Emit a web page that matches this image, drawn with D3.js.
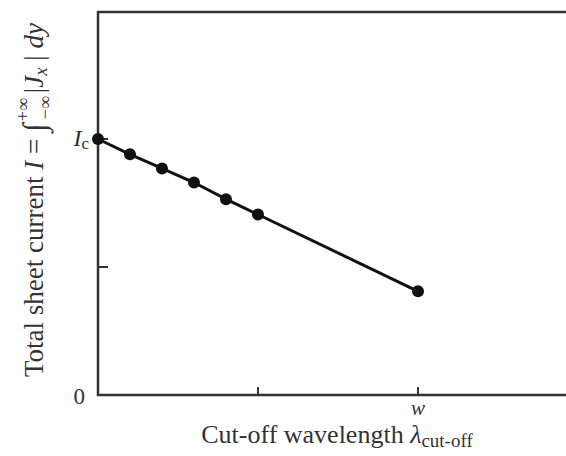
<!DOCTYPE html>
<html>
<head>
<meta charset="utf-8">
<script src="https://d3js.org/d3.v7.min.js"></script>
<style>
  body { margin: 0; background: #fff; }
  text { font-family: "Liberation Serif", "Times New Roman", serif; fill: #333; }
</style>
</head>
<body>
<script>
  // lambda_cut-off in units of w, current in units of Ic
  var lambdaVals = [0, 0.1, 0.2, 0.3, 0.4, 0.5, 1.0];
  var currentVals = [1.0, 0.94, 0.885, 0.83, 0.765, 0.705, 0.405];
  var xTicks = [0.5, 1.0];
  var xTickLabels = ['', 'w'];
  var yTicks = [0.5, 1.0];

  var W = 566, H = 456;
  var margin = { top: 12, right: 0, bottom: 61, left: 98 };
  var innerW = W - margin.left - margin.right;
  var innerH = H - margin.top - margin.bottom;

  var svg = d3.select('body').append('svg')
    .attr('width', W)
    .attr('height', H);
  var g = svg.append('g')
    .attr('transform', 'translate(' + [margin.left, margin.top] + ')');

  var x = d3.scaleLinear().domain([0, 1.4625]).range([0, innerW]);
  var y = d3.scaleLinear().domain([0, 1.496]).range([innerH, 0]);

  var axisCol = '#333';

  // frame: left, bottom, top (right edge runs off the page)
  g.append('path')
    .attr('d', 'M' + innerW + ',0H0V' + innerH + 'H' + innerW)
    .attr('fill', 'none')
    .attr('stroke', axisCol)
    .attr('stroke-width', 2.5);

  // inward ticks
  g.selectAll('.xtick').data(xTicks).enter().append('line')
    .attr('x1', function(d){return x(d);})
    .attr('x2', function(d){return x(d);})
    .attr('y1', innerH)
    .attr('y2', innerH - 8)
    .attr('stroke', axisCol)
    .attr('stroke-width', 2);
  g.selectAll('.ytick').data(yTicks).enter().append('line')
    .attr('x1', 0)
    .attr('x2', 10)
    .attr('y1', function(d){return y(d);})
    .attr('y2', function(d){return y(d);})
    .attr('stroke', axisCol)
    .attr('stroke-width', 2);

  // tick labels
  g.selectAll('.xlab').data(xTicks).enter().append('text')
    .attr('x', function(d){return x(d);})
    .attr('y', innerH + 20)
    .attr('text-anchor', 'middle')
    .attr('font-size', 21)
    .attr('font-style', 'italic')
    .text(function(d, i){return xTickLabels[i];});

  g.append('text')
    .attr('x', -13)
    .attr('y', y(0) + 9)
    .attr('text-anchor', 'end')
    .attr('font-size', 23)
    .text('0');

  var ic = g.append('text')
    .attr('x', -9)
    .attr('y', y(1.0) + 7)
    .attr('text-anchor', 'end')
    .attr('font-size', 24);
  ic.append('tspan').attr('font-style', 'italic').text('I');
  ic.append('tspan').attr('font-size', 17).attr('dy', 3).text('c');

  // data line + markers
  var line = d3.line()
    .x(function(d){return x(d[0]);})
    .y(function(d){return y(d[1]);});
  var pts = lambdaVals.map(function(d, i){return [d, currentVals[i]];});

  g.append('path')
    .datum(pts)
    .attr('d', line)
    .attr('fill', 'none')
    .attr('stroke', '#111')
    .attr('stroke-width', 3);

  g.selectAll('.dot').data(pts).enter().append('circle')
    .attr('cx', function(d){return x(d[0]);})
    .attr('cy', function(d){return y(d[1]);})
    .attr('r', 6)
    .attr('fill', '#111');

  // x-axis title
  var xt = svg.append('text')
    .attr('x', 337)
    .attr('y', 443)
    .attr('text-anchor', 'middle')
    .attr('font-size', 26);
  xt.append('tspan').text('Cut-off wavelength ');
  xt.append('tspan').attr('font-style', 'italic').text('λ');
  xt.append('tspan').attr('font-size', 19).attr('dy', 4).text('cut-off');

  // y-axis title
  var yt = svg.append('text')
    .attr('transform', 'translate(43,' + 200 + ') rotate(-90)')
    .attr('text-anchor', 'middle')
    .attr('font-size', 27);
  yt.append('tspan').text('Total sheet current ');
  yt.append('tspan').attr('font-style', 'italic').text('I');
  yt.append('tspan').text(' = ');
  yt.append('tspan').attr('font-style', 'italic').attr('font-size', 32).attr('dy', 2).text('∫');
  yt.append('tspan').attr('font-size', 18).attr('dy', -16).attr('dx', 2).text('+∞');
  yt.append('tspan').attr('font-size', 18).attr('dy', 22).attr('dx', -21).text('−∞');
  yt.append('tspan').attr('dy', -8).attr('dx', 3).text('|');
  yt.append('tspan').attr('font-style', 'italic').text('J');
  yt.append('tspan').attr('font-style', 'italic').attr('font-size', 19).attr('dy', 4).text('x');
  yt.append('tspan').attr('dy', -4).text(' | ');
  yt.append('tspan').attr('font-style', 'italic').text('dy');
</script>
</body>
</html>
